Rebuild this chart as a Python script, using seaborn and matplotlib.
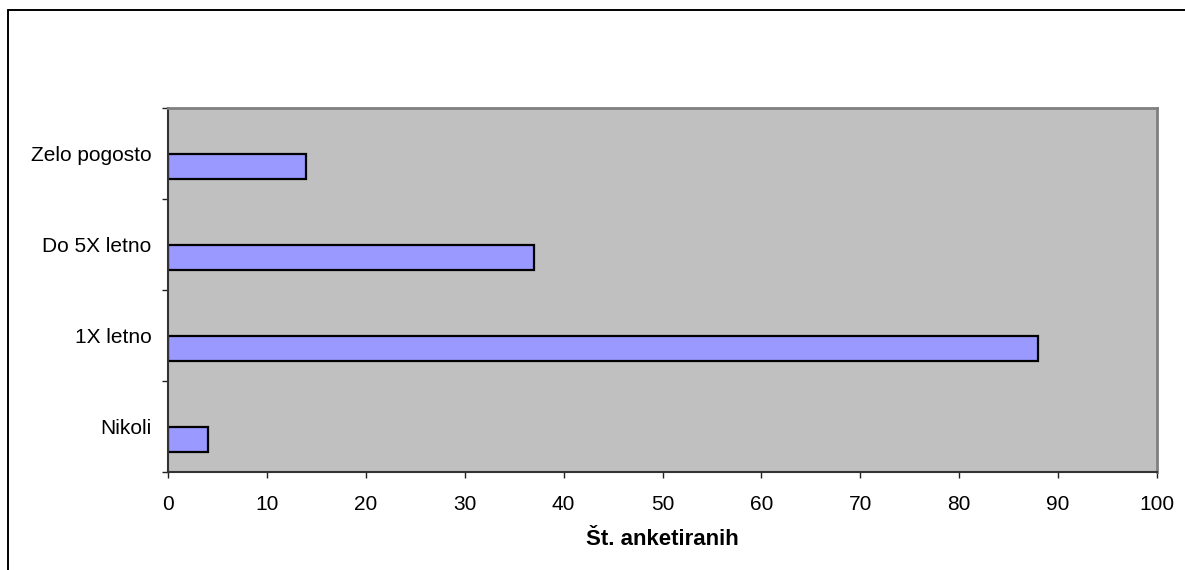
import matplotlib
matplotlib.use("Agg")
import matplotlib.pyplot as plt
from matplotlib.lines import Line2D
from matplotlib.ticker import FixedLocator
import pandas as pd
import seaborn as sns

# Survey answers (top to bottom) and number of respondents
categories = ["Zelo pogosto", "Do 5X letno", "1X letno", "Nikoli"]
counts = [14, 37, 88, 4]
series_name = "Št. anketiranih"
x_ticks = [0, 10, 20, 30, 40, 50, 60, 70, 80, 90, 100]

df = pd.DataFrame({"odgovor": categories, "stevilo": counts, "serija": series_name})

sns.set_theme(style="white")
plt.rcParams["font.family"] = ["Liberation Sans", "DejaVu Sans"]

W, H = 1185, 570
fig = plt.figure(figsize=(W / 100, H / 100), dpi=100)
fig.patch.set_facecolor("white")

# outer chart frame (only top and left edges fall inside the canvas)
fig.add_artist(Line2D([7.5 / W, 1.0], [1 - 10 / H, 1 - 10 / H], color="black", lw=1.4))
fig.add_artist(Line2D([7.5 / W, 7.5 / W], [0.0, 1 - 10 / H], color="black", lw=1.4))

ax = fig.add_axes([168 / W, 1 - 472 / H, 989 / W, 364 / H])
ax.set_facecolor("#C0C0C0")

# clustered layout with an empty companion series, so the bar sits in the lower half of each band
sns.barplot(
    data=df, y="odgovor", x="stevilo", hue="serija",
    order=categories, hue_order=["", series_name],
    palette=["#9999FF", "#9999FF"], width=0.571, dodge=True,
    edgecolor="black", linewidth=1.6, saturation=1, legend=False, ax=ax,
)

ax.set_xlim(0, 100)
ax.set_ylim(len(categories) - 0.5, -0.5)
ax.set_xticks(x_ticks)
ax.set_xticklabels([str(t) for t in x_ticks])
ax.yaxis.set_minor_locator(FixedLocator([i - 0.5 for i in range(len(categories) + 1)]))

ax.tick_params(axis="x", which="major", direction="out", length=4.3, width=1.0,
               color="#222222", labelsize=15, pad=12, labelcolor="black", bottom=True)
ax.tick_params(axis="y", which="major", length=0, labelsize=15, pad=12, labelcolor="black", left=True)
ax.tick_params(axis="y", which="minor", direction="out", length=4.3, width=1.0,
               color="#222222", left=True)

ax.set_ylabel("")
ax.set_xlabel(series_name, fontsize=16, fontweight="bold", labelpad=11, color="black")

for side in ("left", "bottom"):
    ax.spines[side].set_color("#333333")
    ax.spines[side].set_linewidth(1.5)
for side in ("top", "right"):
    ax.spines[side].set_color("#808080")
    ax.spines[side].set_linewidth(2.0)
    ax.spines[side].set_visible(True)

fig.savefig("out.png", dpi=100)
